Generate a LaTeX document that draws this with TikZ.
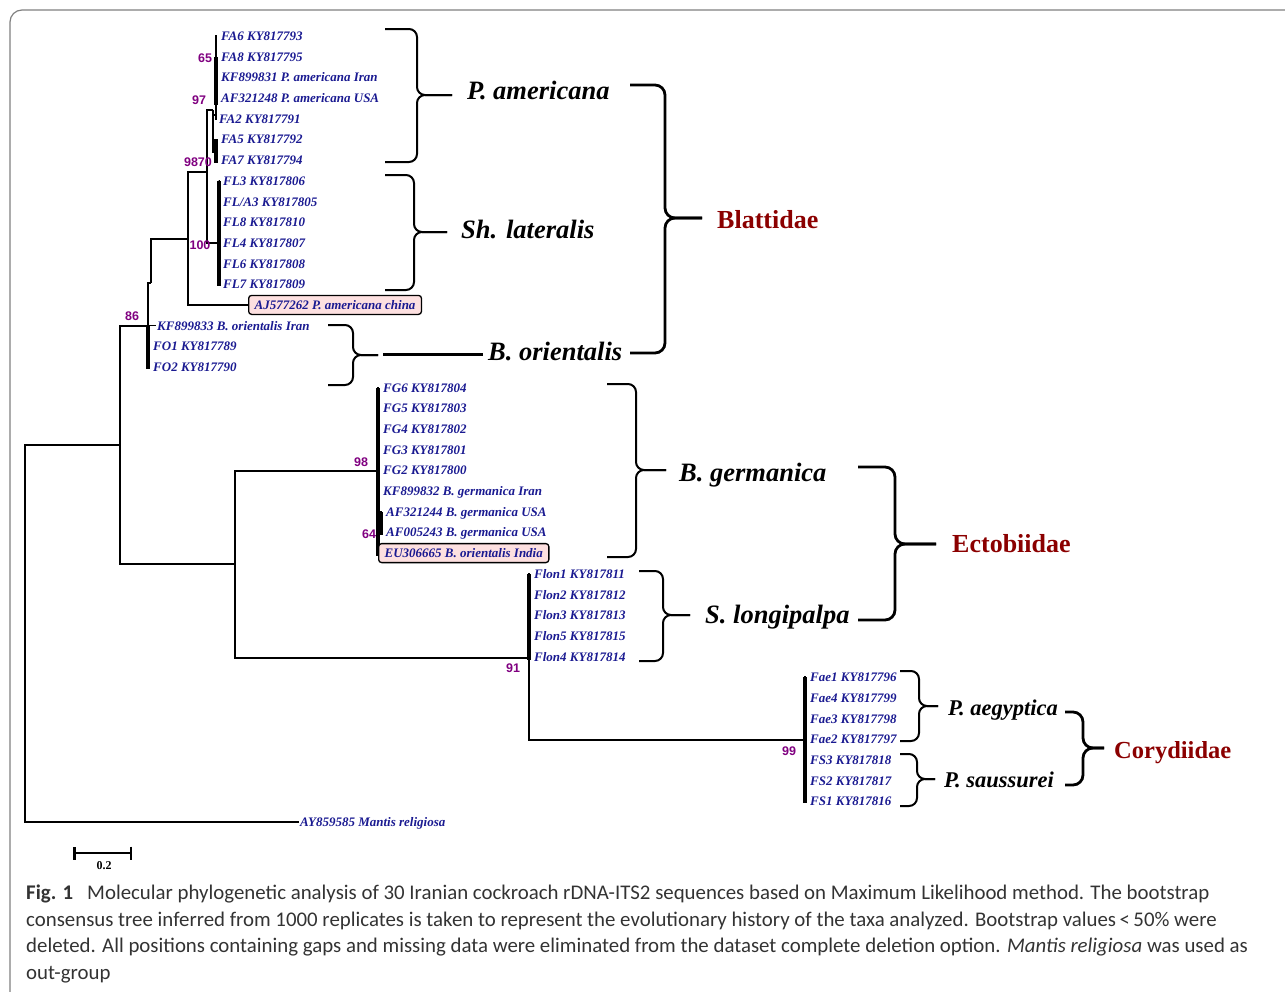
\documentclass[tikz,border=0pt]{standalone}
\usepackage{fontspec}
\setmainfont{Liberation Serif}
\newfontfamily\bsfont{Liberation Sans}
\newfontfamily\capfont{Carlito}
\usetikzlibrary{arrows.meta}
\definecolor{leafblue}{RGB}{26,26,145}
\definecolor{bspurple}{RGB}{128,0,128}
\definecolor{famred}{RGB}{139,0,0}
\definecolor{boxpink}{RGB}{253,224,224}
\definecolor{framegray}{RGB}{128,128,128}
\definecolor{captext}{RGB}{51,51,51}
\newcommand\cbrace[7]{%
  \draw[#1] (#2,#5) -- (#3,#5) -- (#3,#6) -- (#4,#6);
  \draw[#1] (#4,#6) -- (#3,#6) -- (#3,#7) -- (#2,#7);}
\begin{document}
\begin{tikzpicture}[x=1pt,y=-1pt,
  leaf/.style={anchor=west, font=\fontsize{13}{13}\selectfont\bfseries\itshape, text=leafblue, inner xsep=4.5pt, inner ysep=0pt, text height=9pt, text depth=0pt},
  stub/.style={inner xsep=1pt},
  boxleaf/.style={leaf, draw=black, fill=boxpink, rounded corners=3pt, line width=1.3pt, inner xsep=6pt, minimum height=19pt},
  edge/.style={line width=1.6pt},
  bar/.style={line width=3.2pt},
  bs/.style={font=\bsfont\fontsize{12.5}{12.5}\selectfont\bfseries, text=bspurple, inner sep=0pt, text height=9pt, text depth=0pt},
  species/.style={anchor=west, font=\fontsize{26.5}{26.5}\selectfont\bfseries\itshape, inner sep=0pt, text height=18pt, text depth=0pt},
  smallspecies/.style={species, font=\fontsize{22.5}{22.5}\selectfont\bfseries\itshape, text height=15.5pt},
  family/.style={anchor=west, font=\fontsize{26}{26}\selectfont\bfseries, text=famred, inner sep=0pt, text height=17.5pt, text depth=0pt},
  smallbrace/.style={line width=2pt, rounded corners=8pt},
  bigbrace/.style={line width=2.8pt, rounded corners=10pt},
  captxt/.style={anchor=base west, font=\capfont\fontsize{20.85}{20.85}\selectfont, text=captext, inner sep=0pt}
]
\useasboundingbox (0,0) rectangle (1285,991);
\draw[framegray, line width=1.2pt, rounded corners=12pt] (10,1040) -- (10,10) -- (1330,10);

% internal nodes
\coordinate (root) at (25,634);
\coordinate (a) at (120,445);
\coordinate (b) at (148,326);
\coordinate (d) at (151,283);
\coordinate (e) at (188,239);
\coordinate (f) at (207,172);
\coordinate (g) at (213,110);
\coordinate (i) at (216,115);
\coordinate (j) at (216,152);
\coordinate (h) at (219,243);
\coordinate (c) at (235,564);
\coordinate (k) at (378,471);
\coordinate (m) at (381,522);
\coordinate (l) at (529,658);
\coordinate (n) at (805,740);

% leaves
\node[leaf] (fa6) at (216.5,36.0) {FA6 KY817793};
\node[leaf] (fa8) at (216.5,56.7) {FA8 KY817795};
\node[leaf] (kf831) at (216.5,77.4) {KF899831 P. americana Iran};
\node[leaf] (af248) at (216.5,98.1) {AF321248 P. americana USA};
\node[leaf] (fa2) at (214.5,118.7) {FA2 KY817791};
\node[leaf] (fa5) at (216.5,139.4) {FA5 KY817792};
\node[leaf] (fa7) at (216.5,160.1) {FA7 KY817794};
\node[leaf] (fl3) at (218.5,180.8) {FL3 KY817806};
\node[leaf] (fla3) at (218.5,201.5) {FL/A3 KY817805};
\node[leaf] (fl8) at (218.5,222.2) {FL8 KY817810};
\node[leaf] (fl4) at (218.5,242.8) {FL4 KY817807};
\node[leaf] (fl6) at (218.5,263.5) {FL6 KY817808};
\node[leaf] (fl7) at (218.5,284.2) {FL7 KY817809};
\node[leaf,stub] (kf833) at (156,325.6) {KF899833 B. orientalis Iran};
\node[leaf] (fo1) at (148.5,346.3) {FO1 KY817789};
\node[leaf] (fo2) at (148.5,366.9) {FO2 KY817790};
\node[leaf] (fg6) at (378.5,387.6) {FG6 KY817804};
\node[leaf] (fg5) at (378.5,408.3) {FG5 KY817803};
\node[leaf] (fg4) at (378.5,429.0) {FG4 KY817802};
\node[leaf] (fg3) at (378.5,449.7) {FG3 KY817801};
\node[leaf] (fg2) at (378.5,470.4) {FG2 KY817800};
\node[leaf] (kf832) at (378.5,491.0) {KF899832 B. germanica Iran};
\node[leaf] (af244) at (381.5,511.7) {AF321244 B. germanica USA};
\node[leaf] (af243) at (381.5,532.4) {AF005243 B. germanica USA};
\node[leaf] (flon1) at (529.5,573.8) {Flon1 KY817811};
\node[leaf] (flon2) at (529.5,594.5) {Flon2 KY817812};
\node[leaf] (flon3) at (529.5,615.1) {Flon3 KY817813};
\node[leaf] (flon5) at (529.5,635.8) {Flon5 KY817815};
\node[leaf] (flon4) at (529.5,656.5) {Flon4 KY817814};
\node[leaf] (fae1) at (805.5,677.2) {Fae1 KY817796};
\node[leaf] (fae4) at (805.5,697.9) {Fae4 KY817799};
\node[leaf] (fae3) at (805.5,718.6) {Fae3 KY817798};
\node[leaf] (fae2) at (805.5,739.3) {Fae2 KY817797};
\node[leaf] (fs3) at (805.5,759.9) {FS3 KY817818};
\node[leaf] (fs2) at (805.5,780.6) {FS2 KY817817};
\node[leaf] (fs1) at (805.5,801.3) {FS1 KY817816};
\node[leaf,stub] (mantis) at (299,822.0) {AY859585 Mantis religiosa};

% edges
\draw[edge] (root) |- (a);
\draw[edge] (root) |- (mantis.west);
\draw[edge] (a) |- (b);
\draw[edge] (a) |- (c);
\draw[edge] (b) |- (d);
\foreach \t in {kf833,fo1,fo2} \draw[edge] (b) |- (\t.west);
\draw[edge] (d) |- (e);
\draw[edge] (e) |- (f);
\draw[edge] (f) |- (g);
\draw[edge] (f) |- (h);
\draw[edge] (g) |- (i);
\draw[edge] (g) |- (j);
\foreach \t in {fa6,fa8,kf831,af248,fa2} \draw[edge] (i) |- (\t.west);
\foreach \t in {fa5,fa7} \draw[edge] (j) |- (\t.west);
\foreach \t in {fl3,fla3,fl8,fl4,fl6,fl7} \draw[edge] (h) |- (\t.west);
\draw[edge] (c) |- (k);
\draw[edge] (c) |- (l);
\foreach \t in {fg6,fg5,fg4,fg3,fg2,kf832} \draw[edge] (k) |- (\t.west);
\draw[edge] (k) |- (m);
\foreach \t in {af244,af243} \draw[edge] (m) |- (\t.west);
\foreach \t in {flon1,flon2,flon3,flon5,flon4} \draw[edge] (l) |- (\t.west);
\draw[edge] (l) |- (n);
\foreach \t in {fae1,fae4,fae3,fae2,fs3,fs2,fs1} \draw[edge] (n) |- (\t.west);

% thick cluster bars
\draw[bar] (216,57) -- (216,105);
\draw[bar] (216,139) -- (216,163);
\draw[bar] (219,181) -- (219,286);
\draw[bar] (148,325) -- (148,369);
\draw[bar] (378,388) -- (378,556);
\draw[line width=4pt] (381,512) -- (381,535);
\draw[bar] (529,574) -- (529,660);
\draw[bar] (805,677) -- (805,803);

% boxed leaves
\node[boxleaf] (aj) at (248,304.9) {AJ577262 P. americana china};
\node[boxleaf] (eu) at (378,553.1) {EU306665 B. orientalis India};
\draw[edge] (e) |- (aj.west);
\draw[edge] (k) |- (eu.west);

% bootstrap values
\node[bs] (bs65) at (205,58) {65};
\node[bs] (bs97) at (199,100) {97};
\node[bs] (bs9870) at (198,162) {9870};
\node[bs] (bs100) at (200,245) {100};
\node[bs] (bs86) at (132,316) {86};
\node[bs] (bs98) at (361,462) {98};
\node[bs] (bs64) at (369,534) {64};
\node[bs] (bs91) at (513,668) {91};
\node[bs] (bs99) at (789,751) {99};

% scale bar
\coordinate (sbl) at (73,853);
\coordinate (sbr) at (132,853);
\draw[line width=2.5pt, {Bar[width=13pt]}-{Bar[width=13pt]}] (sbl) -- (sbr);
\node[font=\bfseries\fontsize{12}{12}\selectfont, inner sep=0pt] (sblab) at (104,866) {0.2};

% species braces and labels
\cbrace{smallbrace}{385}{417}{452}{29}{95}{162}
\node[species] (pam) at (467,90) {P. americana};
\cbrace{smallbrace}{385}{414}{447}{175}{232}{290}
\node[species] (shl) at (461,229) {Sh. lateralis};
\cbrace{smallbrace}{328}{353}{378}{325}{355}{385}
\coordinate (orl) at (383,354);
\coordinate (orr) at (483,354);
\draw[line width=3pt] (orl) -- (orr);
\node[species] (bor) at (488,351) {B. orientalis};
\cbrace{smallbrace}{607}{636}{666}{384}{470}{557}
\node[species] (bge) at (679,472) {B. germanica};
\cbrace{smallbrace}{639}{663}{690}{571}{615}{661}
\node[species] (slo) at (705,614) {S. longipalpa};
\cbrace{smallbrace}{900}{919}{938}{671}{706}{741}
\node[smallspecies] (pae) at (948,708) {P. aegyptica};
\cbrace{smallbrace}{900}{917}{935}{754}{779}{806}
\node[smallspecies] (psa) at (944,780) {P. saussurei};

% family braces and labels
\cbrace{bigbrace}{630}{665}{702}{85}{218}{353}
\node[family] (bla) at (717,220) {Blattidae};
\cbrace{bigbrace}{858}{895}{936}{467}{544}{620}
\node[family] (ect) at (952,544) {Ectobiidae};
\cbrace{bigbrace}{1065}{1083}{1104}{712}{748}{785}
\node[family, font=\fontsize{24.5}{24.5}\selectfont\bfseries, text height=16.5pt] (cor) at (1114,750) {Corydiidae};

% caption
\node[captxt] (cap0) at (26,899.5) {\bfseries Fig. 1};
\node[captxt] (cap1) at (87,899.5) {Molecular phylogenetic analysis of 30 Iranian cockroach rDNA-ITS2 sequences based on Maximum Likelihood method. The bootstrap};
\node[captxt] (cap2) at (26,926) {consensus tree inferred from 1000 replicates is taken to represent the evolutionary history of the taxa analyzed. Bootstrap values\,<\,50\% were};
\node[captxt] (cap3) at (26,952.5) {deleted. All positions containing gaps and missing data were eliminated from the dataset complete deletion option. \textit{Mantis religiosa} was used as};
\node[captxt] (cap4) at (26,979) {out-group};
\end{tikzpicture}
\end{document}
